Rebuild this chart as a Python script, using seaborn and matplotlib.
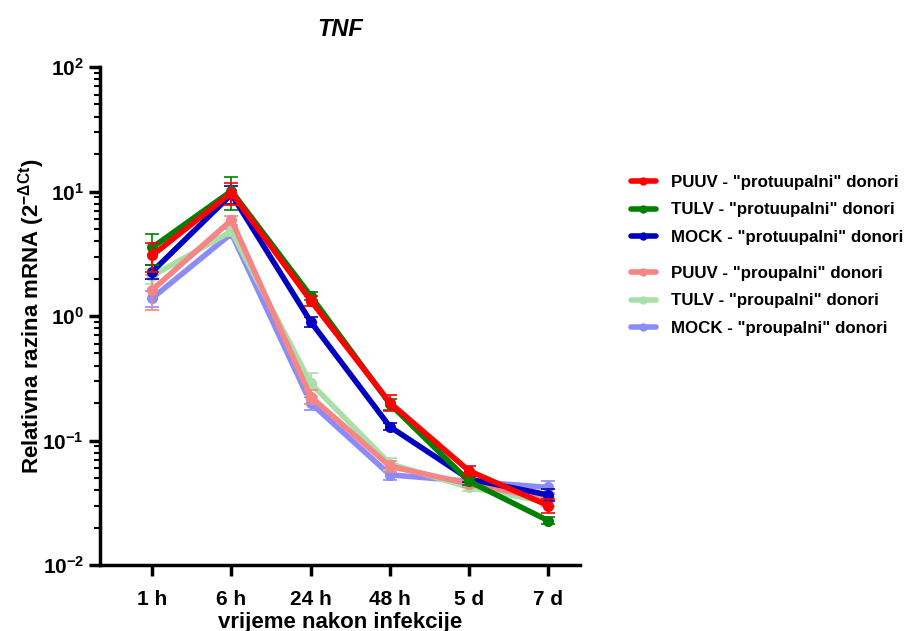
import numpy as np
import pandas as pd
import seaborn as sns
import matplotlib.pyplot as plt
from matplotlib.lines import Line2D
from matplotlib.ticker import LogLocator, NullFormatter

timepoints = ['1 h', '6 h', '24 h', '48 h', '5 d', '7 d']

series_names = ['PUUV - "protuupalni" donori', 'TULV - "protuupalni" donori',
                'MOCK - "protuupalni" donori', 'PUUV - "proupalni" donori',
                'TULV - "proupalni" donori', 'MOCK - "proupalni" donori']
series_colors = ['#ff0000', '#008000', '#0000c0', '#f78585', '#a9dfa9', '#8c8cf8']

puuv_pro_mean = [3.07, 9.8, 1.33, 0.201, 0.057, 0.030]
puuv_pro_sd = [0.8, 2.0, 0.12, 0.03, 0.005, 0.004]
tulv_pro_mean = [3.55, 10.1, 1.45, 0.197, 0.047, 0.0227]
tulv_pro_sd = [1.0, 3.0, 0.1, 0.02, 0.003, 0.0015]
mock_pro_mean = [2.27, 9.5, 0.90, 0.129, 0.049, 0.0365]
mock_pro_sd = [0.3, 1.5, 0.08, 0.008, 0.003, 0.004]
puuv_in_mean = [1.62, 5.9, 0.225, 0.062, 0.045, 0.034]
puuv_in_sd = [0.5, 0.5, 0.03, 0.006, 0.003, 0.004]
tulv_in_mean = [2.10, 4.8, 0.288, 0.065, 0.042, 0.032]
tulv_in_sd = [0.3, 0.4, 0.06, 0.007, 0.003, 0.003]
mock_in_mean = [1.39, 4.6, 0.200, 0.053, 0.047, 0.042]
mock_in_sd = [0.2, 0.4, 0.025, 0.005, 0.003, 0.005]

means = [puuv_pro_mean, tulv_pro_mean, mock_pro_mean, puuv_in_mean, tulv_in_mean, mock_in_mean]
sds = [puuv_pro_sd, tulv_pro_sd, mock_pro_sd, puuv_in_sd, tulv_in_sd, mock_in_sd]

rows = []
for name, m, s in zip(series_names, means, sds):
    for i, t in enumerate(timepoints):
        rows.append({'series': name, 'time': t, 'x': i, 'mean': m[i], 'sd': s[i]})
df = pd.DataFrame(rows)

sns.set_style('ticks')
plt.rcParams['font.family'] = ['Liberation Sans', 'DejaVu Sans']
plt.rcParams['font.weight'] = 'bold'
plt.rcParams['mathtext.fontset'] = 'custom'
plt.rcParams['mathtext.rm'] = 'Liberation Sans:bold'
plt.rcParams['mathtext.it'] = 'Liberation Sans:bold'
plt.rcParams['mathtext.bf'] = 'Liberation Sans:bold'
plt.rcParams['text.color'] = 'black'
plt.rcParams['axes.labelcolor'] = 'black'
plt.rcParams['xtick.color'] = 'black'
plt.rcParams['ytick.color'] = 'black'
plt.rcParams['axes.edgecolor'] = 'black'

fig = plt.figure(figsize=(9.06, 6.31), dpi=100)
ax = fig.add_axes([100 / 906, 1 - 565 / 631, 480 / 906, (565 - 67) / 631])

# draw lighter series first so the darker ones sit on top
order = [5, 4, 3, 2, 1, 0]
for k in order:
    name = series_names[k]
    d = df[df['series'] == name]
    ax.errorbar(d['x'], d['mean'], yerr=d['sd'], fmt='none', ecolor=series_colors[k],
                elinewidth=1.2, capsize=5, capthick=1.2, zorder=2 + (5 - k))
    sns.lineplot(data=d, x='x', y='mean', ax=ax, color=series_colors[k], linewidth=4,
                 marker='o', markersize=8, markeredgewidth=0, legend=False,
                 zorder=3 + (5 - k))

ax.set_yscale('log')
ax.set_ylim(1e-2, 1e2)
ax.set_xlim(-0.66, 5.4)
ax.set_xticks(range(len(timepoints)))
ax.set_xticklabels(timepoints, fontsize=15, fontweight='bold')
ax.yaxis.set_major_locator(LogLocator(base=10, numticks=10))
ax.yaxis.set_minor_locator(LogLocator(base=10, subs=np.arange(2, 10), numticks=20))
ax.yaxis.set_minor_formatter(NullFormatter())
ax.tick_params(axis='both', which='major', width=2.5, length=8, labelsize=15)
ax.tick_params(axis='y', which='minor', width=1.5, length=4)
ax.tick_params(axis='x', pad=10)
for lbl in ax.get_yticklabels() + ax.get_xticklabels():
    lbl.set_fontweight('bold')
for sp in ['top', 'right']:
    ax.spines[sp].set_visible(False)
for sp in ['left', 'bottom']:
    ax.spines[sp].set_linewidth(2.5)

ax.set_xlabel('vrijeme nakon infekcije', fontsize=16, fontweight='bold', labelpad=2)
ax.set_ylabel(r'Relativna razina mRNA (2$^{-\Delta Ct}$)', fontsize=16,
              fontweight='bold', labelpad=-3)
ax.set_title('TNF', fontsize=17, fontweight='bold', style='italic', pad=22)

handles = [Line2D([], [], color=c, linewidth=4, marker='o', markersize=6,
                  markeredgewidth=0) for c in series_colors]
leg_kw = dict(loc='upper left', frameon=False, fontsize=12.2, handlelength=1.5,
              labelspacing=0.75, handletextpad=0.9, borderaxespad=0)
leg1 = fig.legend(handles[:3], series_names[:3], bbox_to_anchor=(624 / 906, 1 - 168 / 631), **leg_kw)
leg2 = fig.legend(handles[3:], series_names[3:], bbox_to_anchor=(624 / 906, 1 - 259 / 631), **leg_kw)
for leg in (leg1, leg2):
    for t in leg.get_texts():
        t.set_fontweight('bold')

fig.savefig('out.png', dpi=100)
